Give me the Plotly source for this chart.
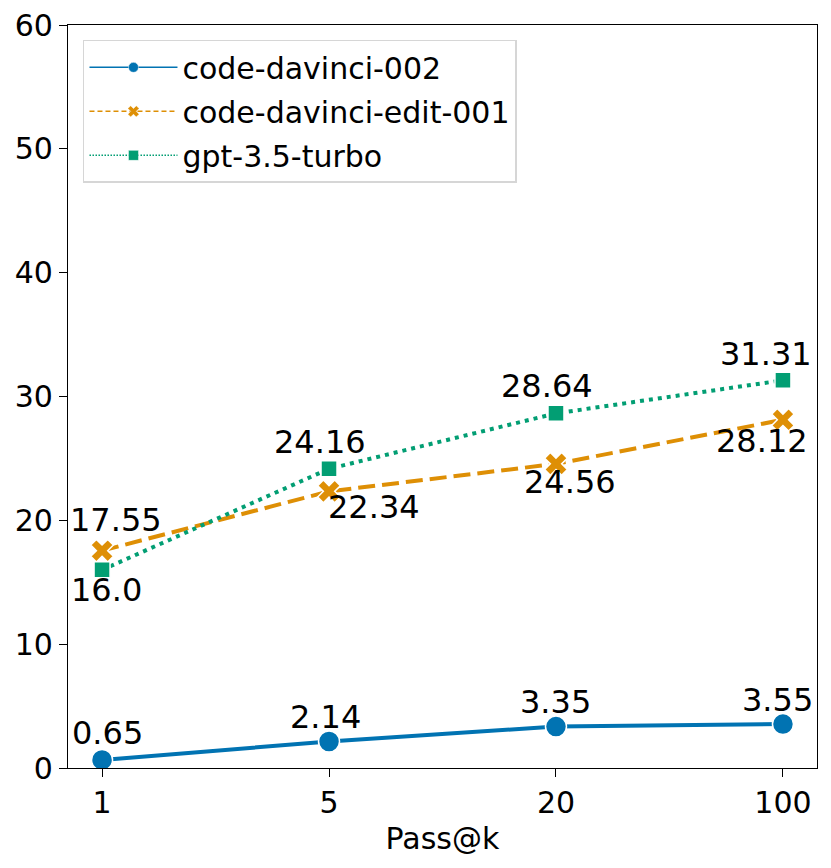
import plotly.graph_objects as go

# data
k_values = ["1", "5", "20", "100"]
models = ["code-davinci-002", "code-davinci-edit-001", "gpt-3.5-turbo"]
davinci_002 = [0.65, 2.14, 3.35, 3.55]
davinci_edit_001 = [17.55, 22.34, 24.56, 28.12]
gpt_35_turbo = [16.0, 24.16, 28.64, 31.31]

series = [davinci_002, davinci_edit_001, gpt_35_turbo]

# styles
colors = ["#0173b2", "#de8f05", "#029e73"]
dashes = ["solid", "17px,7px", "4px,5px"]
legend_dashes = ["solid", "5px,3px", "1.5px,1.5px"]
symbols = ["circle", "x", "square"]
marker_sizes = [21, 20, 16]
line_widths = [4, 4, 4]

# label offsets in px (dx, dy up), one per point
label_offsets = [
    [(5, 27), (-4, 25), (0, 25), (-5, 24)],
    [(14, 31), (45, -16), (14, -18), (-21, -21)],
    [(4, -20), (-9, 27), (-9, 27), (-17, 26)],
]

fig = go.Figure()

for i, name in enumerate(models):
    fig.add_trace(go.Scatter(
        x=k_values,
        y=series[i],
        mode="lines+markers",
        line=dict(color=colors[i], width=line_widths[i], dash=dashes[i]),
        marker=dict(symbol=symbols[i], size=marker_sizes[i], color=colors[i],
                    line=dict(color="white", width=1.5)),
        showlegend=False,
    ))

# thin legend entries like the matplotlib ones
for i, name in enumerate(models):
    fig.add_trace(go.Scatter(
        x=[None],
        y=[None],
        name=name,
        legendgroup=name,
        mode="lines+markers",
        line=dict(color=colors[i], width=1.5, dash=legend_dashes[i]),
        marker=dict(symbol=symbols[i], size=10, color=colors[i],
                    line=dict(color="white", width=0.5)),
    ))

# value labels; category axis -> position by index
for i in range(len(models)):
    for j in range(len(k_values)):
        dx, dy = label_offsets[i][j]
        fig.add_annotation(
            x=j,
            y=series[i][j],
            text=str(series[i][j]),
            showarrow=False,
            xshift=dx,
            yshift=dy,
            font=dict(size=32, color="black"),
        )

# page body has an 8px margin, so margins are shifted to compensate
fig.update_layout(
    width=831,
    height=868,
    margin=dict(l=60, r=22, t=17, b=108),
    paper_bgcolor="white",
    plot_bgcolor="white",
    font=dict(family="DejaVu Sans", size=30, color="black"),
    legend=dict(
        x=0.02,
        y=0.98,
        xanchor="left",
        yanchor="top",
        bgcolor="rgba(255,255,255,0.8)",
        bordercolor="#d6d6d6",
        borderwidth=1.5,
        font=dict(size=30),
        tracegroupgap=2,
        itemwidth=88,
    ),
)

fig.update_xaxes(
    type="category",
    categoryorder="array",
    categoryarray=k_values,
    range=[-0.15, 3.15],
    showgrid=False,
    showline=True,
    mirror=True,
    linecolor="black",
    linewidth=1.3,
    ticks="outside",
    ticklen=8,
    tickwidth=1.3,
    tickcolor="black",
    tickfont=dict(size=30),
    title_text="Pass@k",
    title_font=dict(size=30),
    title_standoff=8,
    zeroline=False,
    automargin=False,
)
fig.update_yaxes(
    range=[0, 60],
    dtick=10,
    showgrid=False,
    showline=True,
    mirror=True,
    linecolor="black",
    linewidth=1.3,
    ticks="outside",
    ticklen=8,
    tickwidth=1.3,
    tickcolor="black",
    tickfont=dict(size=30),
    ticklabeloverflow="allow",
    zeroline=False,
    automargin=False,
)

fig.write_html("out.html")
